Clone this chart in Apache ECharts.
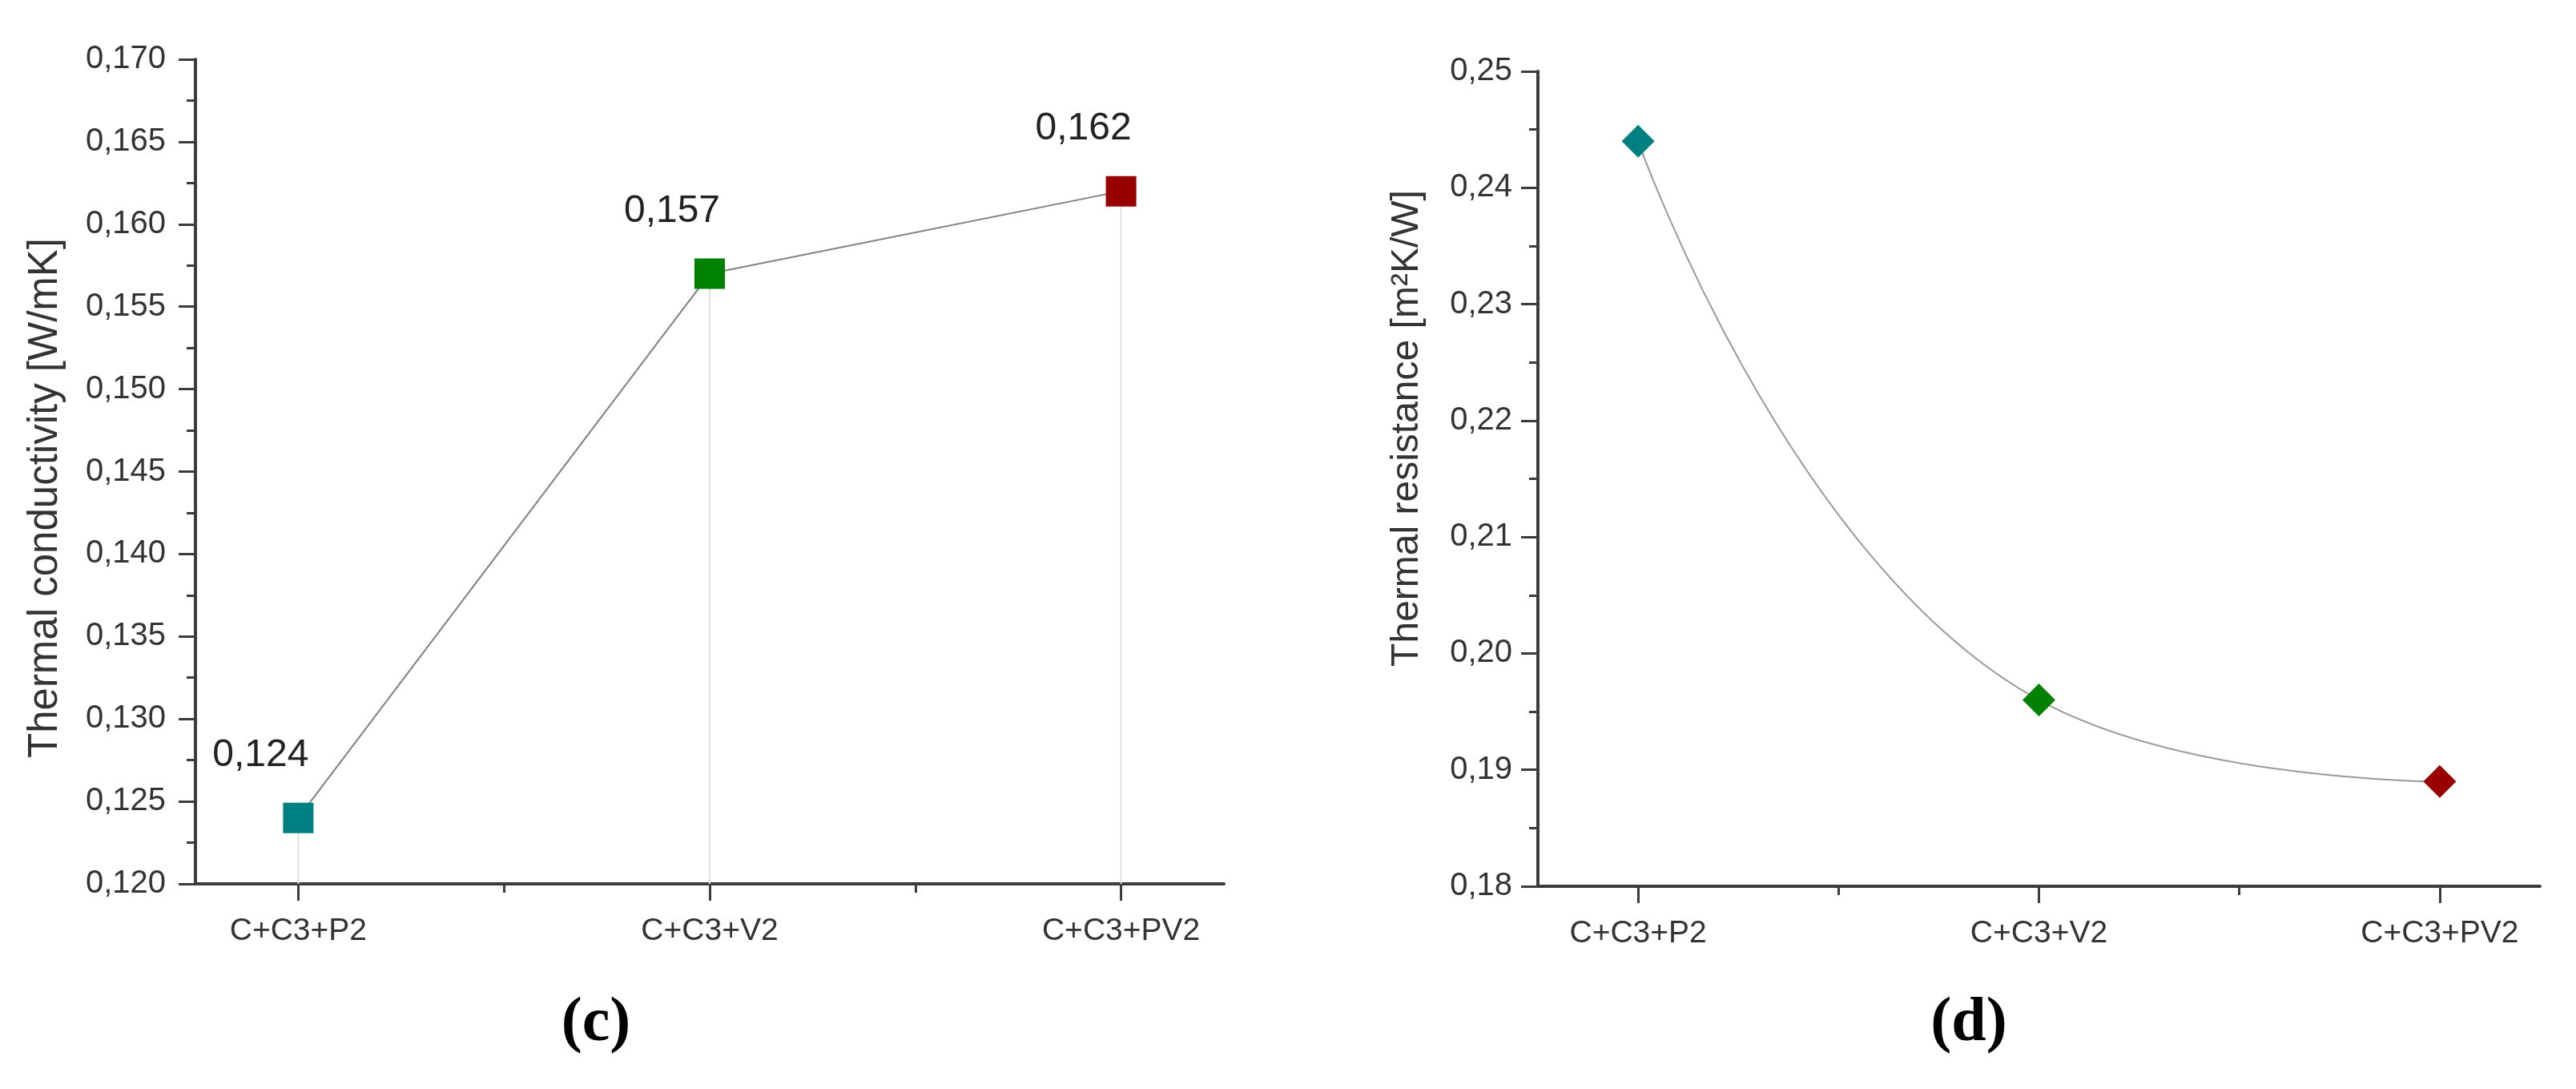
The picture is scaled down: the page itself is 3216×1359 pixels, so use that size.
<!DOCTYPE html>
<html>
<head>
<meta charset="utf-8">
<script src="https://cdn.jsdelivr.net/npm/echarts@6/dist/echarts.min.js"></script>
<style>
  html, body { margin: 0; padding: 0; background: #fff; }
  #main { width: 3216px; height: 1359px; }
</style>
</head>
<body>
<div id="main"></div>
<script>
var categories = ['C+C3+P2', 'C+C3+V2', 'C+C3+PV2'];
var conductivity = [0.124, 0.157, 0.162];   // W/mK, panel (c)
var resistance = [0.244, 0.196, 0.189];     // m²K/W, panel (d)
var pointColors = ['#008080', '#008000', '#990000'];
var captions = ['(c)', '(d)'];

var fontFamily = '"Liberation Sans", Arial, sans-serif';
var axisColor = '#3c3c3c';

function toPoints(values) {
    return values.map(function (v, i) {
        return { value: [i, v], itemStyle: { color: pointColors[i] } };
    });
}

function comma(digits) {
    return function (v) { return v.toFixed(digits).replace('.', ','); };
}

// category positions 0..2 sit a quarter step inside both ends of the axis
function mainX(gridIndex) {
    return {
        type: 'value', gridIndex: gridIndex, min: -0.25, max: 2.25,
        axisLine: { onZero: false, lineStyle: { color: axisColor, width: 4 } },
        axisTick: { customValues: [0, 1, 2], length: 21, lineStyle: { color: axisColor, width: 3 } },
        axisLabel: {
            customValues: [0, 1, 2], margin: 40,
            formatter: function (v) { return categories[Math.round(v)]; },
            fontFamily: fontFamily, fontSize: 39, color: '#333'
        },
        splitLine: { show: false }
    };
}
function minorX(gridIndex) {
    return {
        type: 'value', gridIndex: gridIndex, min: -0.25, max: 2.25, position: 'bottom',
        axisLine: { show: false, onZero: false },
        axisTick: { customValues: [0.5, 1.5], length: 11, lineStyle: { color: axisColor, width: 3 } },
        axisLabel: { show: false },
        splitLine: { show: false }
    };
}
// padding shifts the rotated name along the axis (left = up, right = down)
function yAxis(gridIndex, min, max, interval, digits, name, nameSize, nameGap, padding, labelMargin) {
    return {
        type: 'value', gridIndex: gridIndex, min: min, max: max, interval: interval,
        position: 'left',
        name: name, nameLocation: 'middle', nameGap: nameGap,
        nameTextStyle: { fontFamily: fontFamily, fontSize: nameSize, color: '#333', padding: padding },
        axisLine: { show: true, onZero: false, lineStyle: { color: axisColor, width: 4 } },
        axisTick: { show: true, length: 21, lineStyle: { color: axisColor, width: 3 } },
        minorTick: { show: true, splitNumber: 2, length: 11, lineStyle: { color: axisColor, width: 3 } },
        axisLabel: { formatter: comma(digits), margin: labelMargin, fontFamily: fontFamily, fontSize: 40, color: '#333' },
        splitLine: { show: false }
    };
}

var option = {
    backgroundColor: '#ffffff',
    animation: false,
    grid: [
        { left: 244, top: 74, width: 1284, height: 1029 },
        { left: 1920, top: 89, width: 1251, height: 1017 }
    ],
    xAxis: [mainX(0), minorX(0), mainX(1), minorX(1)],
    yAxis: [
        yAxis(0, 0.12, 0.17, 0.005, 3, 'Thermal conductivity [W/mK]', 51, 162, [0, 66, 0, 0], 37),
        yAxis(1, 0.18, 0.25, 0.01, 2, 'Thermal resistance [m²K/W]', 48, 139, [0, 0, 0, 126], 32)
    ],
    graphic: [
        { type: 'text', x: 744, y: 1278, style: { text: captions[0], align: 'center', verticalAlign: 'middle', font: 'bold 78px "Liberation Serif", "Times New Roman", serif', fill: '#000' } },
        { type: 'text', x: 2458, y: 1278, style: { text: captions[1], align: 'center', verticalAlign: 'middle', font: 'bold 78px "Liberation Serif", "Times New Roman", serif', fill: '#000' } }
    ],
    series: [
        {
            // thin drop lines under the squares
            type: 'bar', xAxisIndex: 0, yAxisIndex: 0, barWidth: 2, z: 1,
            itemStyle: { color: '#e2e2e2' },
            data: conductivity.map(function (v, i) { return [i, v]; })
        },
        {
            type: 'line', xAxisIndex: 0, yAxisIndex: 0, z: 3,
            symbol: 'rect', symbolSize: 38,
            lineStyle: { color: '#808080', width: 2 },
            label: {
                show: true, position: 'top', distance: 5, offset: [-47, -30],
                formatter: function (p) { return comma(3)(p.value[1]); },
                fontFamily: fontFamily, fontSize: 48, color: '#222'
            },
            data: toPoints(conductivity)
        },
        {
            type: 'line', xAxisIndex: 2, yAxisIndex: 1, z: 3,
            smooth: true,
            symbol: 'diamond', symbolSize: 41,
            lineStyle: { color: '#9a9a9a', width: 2 },
            data: toPoints(resistance)
        }
    ]
};

var myChart = echarts.init(document.getElementById('main'));
myChart.setOption(option);
</script>
</body>
</html>
